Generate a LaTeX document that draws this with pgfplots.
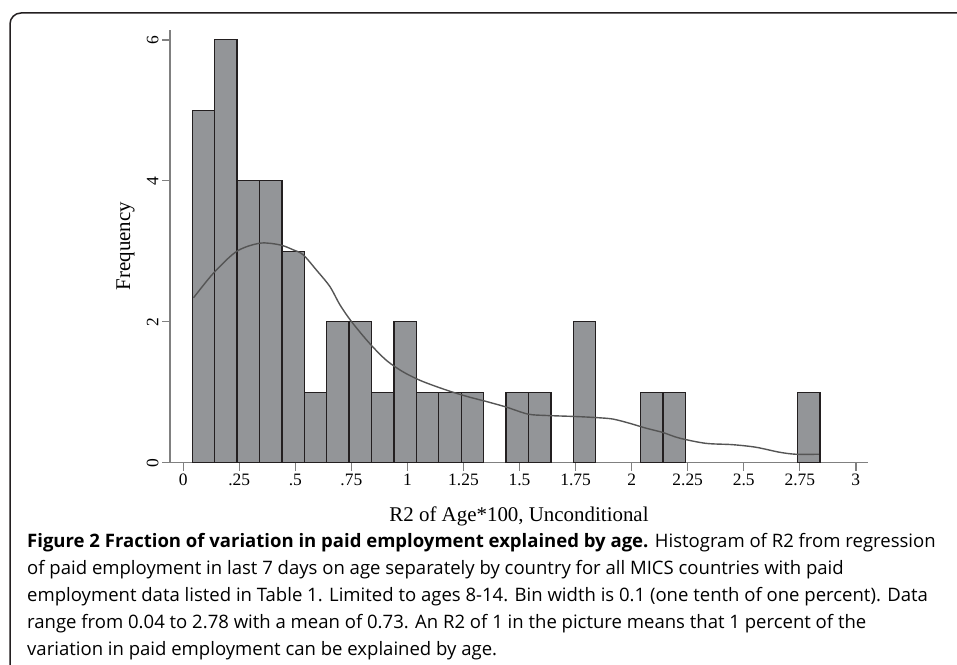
\documentclass[border=0pt]{standalone}
\usepackage{fontspec}
\setmainfont{Liberation Serif}
\newfontfamily\capfont{Open Sans}
\usepackage{pgfplots}
\pgfplotsset{compat=1.18}
\definecolor{barfill}{RGB}{147,149,152}
\definecolor{baredge}{RGB}{35,31,32}
\definecolor{axgray}{RGB}{128,128,128}
\definecolor{kde}{RGB}{85,85,85}
\begin{document}
\begin{tikzpicture}[x=1bp,y=1bp]
\useasboundingbox (0,0) rectangle (957,665);
\clip (0,0) rectangle (957,665);
\draw[baredge, line width=1.5bp, rounded corners=11bp] (10,-20) -- (10,652) -- (980,652);
\begin{axis}[
  at={(170bp,202.3bp)}, anchor=south west,
  scale only axis, width=697.7bp, height=432.7bp,
  xmin=-0.059, xmax=3.053, ymin=0, ymax=6.14,
  axis x line*=bottom, axis y line*=left,
  axis line style={axgray, line width=1.4bp, -},
  tick align=outside, major tick length=8bp,
  tick style={axgray, line width=1.4bp},
  xtick={0,0.25,0.5,0.75,1,1.25,1.5,1.75,2,2.25,2.5,2.75,3},
  xticklabels={0,.25,.5,.75,1,1.25,1.5,1.75,2,2.25,2.5,2.75,3},
  ytick={0,2,4,6},
  /pgf/number format/assume math mode=true,
  every tick label/.append style={font=\fontsize{17.5}{17.5}\selectfont},
  yticklabel style={rotate=90, anchor=south},
]
\addplot[ybar, bar width=0.1, bar shift=0pt, fill=barfill, draw=baredge, line width=1.3bp] coordinates {
  (0.09,5) (0.19,6) (0.29,4) (0.39,4) (0.49,3) (0.59,1) (0.69,2) (0.79,2)
  (0.89,1) (0.99,2) (1.09,1) (1.19,1) (1.29,1) (1.49,1) (1.59,1) (1.79,2)
  (2.09,1) (2.19,1) (2.79,1)
};
\addplot[kde, line width=1.4bp, smooth, no marks] coordinates {
  (0.046,2.34) (0.135,2.69) (0.239,3.00) (0.343,3.115) (0.432,3.09) (0.491,3.02)
  (0.535,2.95) (0.595,2.73) (0.654,2.50) (0.699,2.24) (0.751,2.00) (0.832,1.69)
  (0.907,1.45) (0.980,1.29) (1.055,1.17) (1.129,1.08) (1.203,1.00) (1.277,0.93)
  (1.35,0.87) (1.44,0.79) (1.537,0.69) (1.619,0.67) (1.752,0.655) (1.841,0.64)
  (1.915,0.62) (1.99,0.56) (2.064,0.49) (2.138,0.43) (2.212,0.35) (2.33,0.275)
  (2.449,0.256) (2.553,0.22) (2.657,0.15) (2.731,0.12) (2.835,0.12)
};
\end{axis}
\node[rotate=90, anchor=base, font=\fontsize{21}{21}\selectfont, inner sep=0] at (130,419) {Frequency};
\node[anchor=base, font=\fontsize{21}{21}\selectfont, inner sep=0] at (519,143) {R2 of Age*100, Unconditional};
\begin{scope}[every node/.style={anchor=base west, inner sep=0, font=\capfont\fontsize{18.6}{18.6}\selectfont}]
\node at (27,117) {\textbf{Figure 2 Fraction of variation in paid employment explained by age.} Histogram of R2 from regression};
\node at (27,90) {of paid employment in last 7 days on age separately by country for all MICS countries with paid};
\node at (27,63) {employment data listed in Table 1. Limited to ages 8-14. Bin width is 0.1 (one tenth of one percent). Data};
\node at (27,36) {range from 0.04 to 2.78 with a mean of 0.73. An R2 of 1 in the picture means that 1 percent of the};
\node at (27,9) {variation in paid employment can be explained by age.};
\end{scope}
\end{tikzpicture}
\end{document}
